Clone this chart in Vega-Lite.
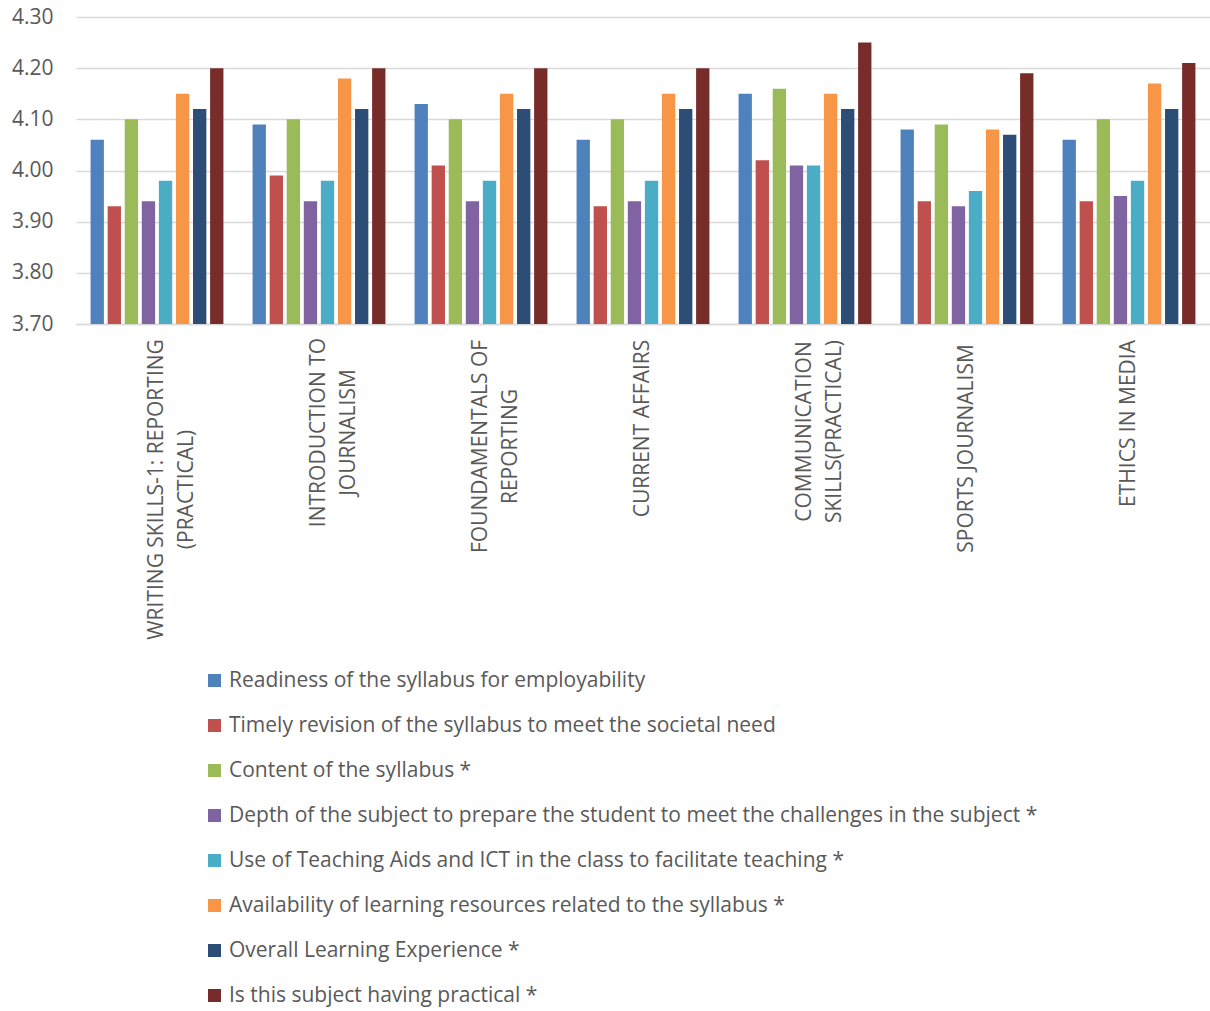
{
  "$schema": "https://vega.github.io/schema/vega-lite/v6.json",
  "width": 1134,
  "height": 307,
  "autosize": {"type": "none"},
  "padding": {"left": 76, "top": 17, "right": 0, "bottom": 687},
  "background": "white",
  "config": {"view": {"stroke": null}},
  "data": {"values": [
    {"course": "WRITING SKILLS-1: REPORTING (PRACTICAL)", "criterion": "Readiness of the syllabus for employability", "value": 4.06},
    {"course": "WRITING SKILLS-1: REPORTING (PRACTICAL)", "criterion": "Timely revision of the syllabus to meet the societal need", "value": 3.93},
    {"course": "WRITING SKILLS-1: REPORTING (PRACTICAL)", "criterion": "Content of the syllabus *", "value": 4.10},
    {"course": "WRITING SKILLS-1: REPORTING (PRACTICAL)", "criterion": "Depth of the subject to prepare the student to meet the challenges in the subject *", "value": 3.94},
    {"course": "WRITING SKILLS-1: REPORTING (PRACTICAL)", "criterion": "Use of Teaching Aids and ICT in the class to facilitate teaching *", "value": 3.98},
    {"course": "WRITING SKILLS-1: REPORTING (PRACTICAL)", "criterion": "Availability of learning resources related to the syllabus *", "value": 4.15},
    {"course": "WRITING SKILLS-1: REPORTING (PRACTICAL)", "criterion": "Overall Learning Experience *", "value": 4.12},
    {"course": "WRITING SKILLS-1: REPORTING (PRACTICAL)", "criterion": "Is this subject having practical *", "value": 4.20},
    {"course": "INTRODUCTION TO JOURNALISM", "criterion": "Readiness of the syllabus for employability", "value": 4.09},
    {"course": "INTRODUCTION TO JOURNALISM", "criterion": "Timely revision of the syllabus to meet the societal need", "value": 3.99},
    {"course": "INTRODUCTION TO JOURNALISM", "criterion": "Content of the syllabus *", "value": 4.10},
    {"course": "INTRODUCTION TO JOURNALISM", "criterion": "Depth of the subject to prepare the student to meet the challenges in the subject *", "value": 3.94},
    {"course": "INTRODUCTION TO JOURNALISM", "criterion": "Use of Teaching Aids and ICT in the class to facilitate teaching *", "value": 3.98},
    {"course": "INTRODUCTION TO JOURNALISM", "criterion": "Availability of learning resources related to the syllabus *", "value": 4.18},
    {"course": "INTRODUCTION TO JOURNALISM", "criterion": "Overall Learning Experience *", "value": 4.12},
    {"course": "INTRODUCTION TO JOURNALISM", "criterion": "Is this subject having practical *", "value": 4.20},
    {"course": "FOUNDAMENTALS OF REPORTING", "criterion": "Readiness of the syllabus for employability", "value": 4.13},
    {"course": "FOUNDAMENTALS OF REPORTING", "criterion": "Timely revision of the syllabus to meet the societal need", "value": 4.01},
    {"course": "FOUNDAMENTALS OF REPORTING", "criterion": "Content of the syllabus *", "value": 4.10},
    {"course": "FOUNDAMENTALS OF REPORTING", "criterion": "Depth of the subject to prepare the student to meet the challenges in the subject *", "value": 3.94},
    {"course": "FOUNDAMENTALS OF REPORTING", "criterion": "Use of Teaching Aids and ICT in the class to facilitate teaching *", "value": 3.98},
    {"course": "FOUNDAMENTALS OF REPORTING", "criterion": "Availability of learning resources related to the syllabus *", "value": 4.15},
    {"course": "FOUNDAMENTALS OF REPORTING", "criterion": "Overall Learning Experience *", "value": 4.12},
    {"course": "FOUNDAMENTALS OF REPORTING", "criterion": "Is this subject having practical *", "value": 4.20},
    {"course": "CURRENT AFFAIRS", "criterion": "Readiness of the syllabus for employability", "value": 4.06},
    {"course": "CURRENT AFFAIRS", "criterion": "Timely revision of the syllabus to meet the societal need", "value": 3.93},
    {"course": "CURRENT AFFAIRS", "criterion": "Content of the syllabus *", "value": 4.10},
    {"course": "CURRENT AFFAIRS", "criterion": "Depth of the subject to prepare the student to meet the challenges in the subject *", "value": 3.94},
    {"course": "CURRENT AFFAIRS", "criterion": "Use of Teaching Aids and ICT in the class to facilitate teaching *", "value": 3.98},
    {"course": "CURRENT AFFAIRS", "criterion": "Availability of learning resources related to the syllabus *", "value": 4.15},
    {"course": "CURRENT AFFAIRS", "criterion": "Overall Learning Experience *", "value": 4.12},
    {"course": "CURRENT AFFAIRS", "criterion": "Is this subject having practical *", "value": 4.20},
    {"course": "COMMUNICATION SKILLS(PRACTICAL)", "criterion": "Readiness of the syllabus for employability", "value": 4.15},
    {"course": "COMMUNICATION SKILLS(PRACTICAL)", "criterion": "Timely revision of the syllabus to meet the societal need", "value": 4.02},
    {"course": "COMMUNICATION SKILLS(PRACTICAL)", "criterion": "Content of the syllabus *", "value": 4.16},
    {"course": "COMMUNICATION SKILLS(PRACTICAL)", "criterion": "Depth of the subject to prepare the student to meet the challenges in the subject *", "value": 4.01},
    {"course": "COMMUNICATION SKILLS(PRACTICAL)", "criterion": "Use of Teaching Aids and ICT in the class to facilitate teaching *", "value": 4.01},
    {"course": "COMMUNICATION SKILLS(PRACTICAL)", "criterion": "Availability of learning resources related to the syllabus *", "value": 4.15},
    {"course": "COMMUNICATION SKILLS(PRACTICAL)", "criterion": "Overall Learning Experience *", "value": 4.12},
    {"course": "COMMUNICATION SKILLS(PRACTICAL)", "criterion": "Is this subject having practical *", "value": 4.25},
    {"course": "SPORTS JOURNALISM", "criterion": "Readiness of the syllabus for employability", "value": 4.08},
    {"course": "SPORTS JOURNALISM", "criterion": "Timely revision of the syllabus to meet the societal need", "value": 3.94},
    {"course": "SPORTS JOURNALISM", "criterion": "Content of the syllabus *", "value": 4.09},
    {"course": "SPORTS JOURNALISM", "criterion": "Depth of the subject to prepare the student to meet the challenges in the subject *", "value": 3.93},
    {"course": "SPORTS JOURNALISM", "criterion": "Use of Teaching Aids and ICT in the class to facilitate teaching *", "value": 3.96},
    {"course": "SPORTS JOURNALISM", "criterion": "Availability of learning resources related to the syllabus *", "value": 4.08},
    {"course": "SPORTS JOURNALISM", "criterion": "Overall Learning Experience *", "value": 4.07},
    {"course": "SPORTS JOURNALISM", "criterion": "Is this subject having practical *", "value": 4.19},
    {"course": "ETHICS IN MEDIA", "criterion": "Readiness of the syllabus for employability", "value": 4.06},
    {"course": "ETHICS IN MEDIA", "criterion": "Timely revision of the syllabus to meet the societal need", "value": 3.94},
    {"course": "ETHICS IN MEDIA", "criterion": "Content of the syllabus *", "value": 4.10},
    {"course": "ETHICS IN MEDIA", "criterion": "Depth of the subject to prepare the student to meet the challenges in the subject *", "value": 3.95},
    {"course": "ETHICS IN MEDIA", "criterion": "Use of Teaching Aids and ICT in the class to facilitate teaching *", "value": 3.98},
    {"course": "ETHICS IN MEDIA", "criterion": "Availability of learning resources related to the syllabus *", "value": 4.17},
    {"course": "ETHICS IN MEDIA", "criterion": "Overall Learning Experience *", "value": 4.12},
    {"course": "ETHICS IN MEDIA", "criterion": "Is this subject having practical *", "value": 4.21}
  ]},
  "mark": {"type": "bar", "clip": true},
  "encoding": {
    "x": {
      "field": "course",
      "type": "nominal",
      "sort": ["WRITING SKILLS-1: REPORTING (PRACTICAL)", "INTRODUCTION TO JOURNALISM", "FOUNDAMENTALS OF REPORTING", "CURRENT AFFAIRS", "COMMUNICATION SKILLS(PRACTICAL)", "SPORTS JOURNALISM", "ETHICS IN MEDIA"],
      "scale": {"paddingInner": 0.18, "paddingOuter": 0.09},
      "axis": {
        "title": null,
        "domain": true,
        "domainColor": "#d9d9d9",
        "domainWidth": 1.5,
        "ticks": false,
        "labelAngle": -90,
        "labelAlign": "center",
        "labelBaseline": "middle",
        "labelFont": "Open Sans",
        "labelFontSize": 21,
        "labelColor": "#595959",
        "labelLineHeight": 30,
        "labelOverlap": false,
        "labelBound": false,
        "labelLimit": 0,
        "labelPadding": {
          "condition": [
            {"test": "datum.value == 'WRITING SKILLS-1: REPORTING (PRACTICAL)'", "value": 165},
            {"test": "datum.value == 'INTRODUCTION TO JOURNALISM'", "value": 108},
            {"test": "datum.value == 'FOUNDAMENTALS OF REPORTING'", "value": 122},
            {"test": "datum.value == 'CURRENT AFFAIRS'", "value": 104},
            {"test": "datum.value == 'COMMUNICATION SKILLS(PRACTICAL)'", "value": 107},
            {"test": "datum.value == 'SPORTS JOURNALISM'", "value": 124}
          ],
          "value": 99
        },
        "labelExpr": "datum.value == 'WRITING SKILLS-1: REPORTING (PRACTICAL)' ? ['WRITING SKILLS-1: REPORTING', '(PRACTICAL)'] : datum.value == 'INTRODUCTION TO JOURNALISM' ? ['INTRODUCTION TO', 'JOURNALISM'] : datum.value == 'FOUNDAMENTALS OF REPORTING' ? ['FOUNDAMENTALS OF', 'REPORTING'] : datum.value == 'COMMUNICATION SKILLS(PRACTICAL)' ? ['COMMUNICATION', 'SKILLS(PRACTICAL)'] : datum.value"
      }
    },
    "xOffset": {
      "field": "criterion",
      "type": "nominal",
      "sort": ["Readiness of the syllabus for employability", "Timely revision of the syllabus to meet the societal need", "Content of the syllabus *", "Depth of the subject to prepare the student to meet the challenges in the subject *", "Use of Teaching Aids and ICT in the class to facilitate teaching *", "Availability of learning resources related to the syllabus *", "Overall Learning Experience *", "Is this subject having practical *"],
      "scale": {"paddingInner": 0.22, "paddingOuter": 0}
    },
    "y": {
      "field": "value",
      "type": "quantitative",
      "scale": {"domain": [3.7, 4.3], "zero": false, "nice": false},
      "axis": {
        "title": null,
        "values": [3.7, 3.8, 3.9, 4.0, 4.1, 4.2, 4.3],
        "format": ".2f",
        "domain": false,
        "ticks": false,
        "grid": true,
        "gridColor": "#d9d9d9",
        "gridWidth": 1.5,
        "labelFont": "Open Sans",
        "labelFontSize": 21,
        "labelColor": "#595959",
        "labelPadding": 23
      }
    },
    "color": {
      "field": "criterion",
      "type": "nominal",
      "sort": ["Readiness of the syllabus for employability", "Timely revision of the syllabus to meet the societal need", "Content of the syllabus *", "Depth of the subject to prepare the student to meet the challenges in the subject *", "Use of Teaching Aids and ICT in the class to facilitate teaching *", "Availability of learning resources related to the syllabus *", "Overall Learning Experience *", "Is this subject having practical *"],
      "scale": {
        "domain": ["Readiness of the syllabus for employability", "Timely revision of the syllabus to meet the societal need", "Content of the syllabus *", "Depth of the subject to prepare the student to meet the challenges in the subject *", "Use of Teaching Aids and ICT in the class to facilitate teaching *", "Availability of learning resources related to the syllabus *", "Overall Learning Experience *", "Is this subject having practical *"],
        "range": ["#4F81BD", "#C0504D", "#9BBB59", "#8064A2", "#4BACC6", "#F79646", "#2C4D75", "#772C2A"]
      },
      "legend": {
        "title": null,
        "orient": "none",
        "legendX": 128,
        "legendY": 653,
        "direction": "vertical",
        "padding": 0,
        "symbolType": "square",
        "symbolSize": 169,
        "symbolStrokeWidth": 0,
        "symbolOpacity": 1,
        "labelFont": "Open Sans",
        "labelFontSize": 21,
        "labelColor": "#595959",
        "labelOffset": 4,
        "labelLimit": 0,
        "rowPadding": 23
      }
    }
  }
}
